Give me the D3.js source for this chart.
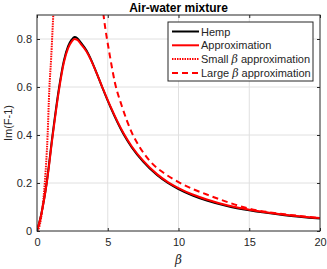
<!DOCTYPE html>
<meta charset="utf-8">
<script src="https://d3js.org/d3.v7.min.js"></script>
<style>
  body { margin: 0; background: #fff; }
  text { font-family: "Liberation Sans", Arial, sans-serif; fill: #262626; }
</style>
<div id="chart"></div>
<script>

// values
const hempBeta = [0, 0.3, 0.68, 1.1, 1.54, 1.9, 2.2, 2.45, 2.64, 2.85, 3.1, 3.5, 3.85, 4.2, 4.6, 5.2, 6.1, 6.7, 7.5, 8.5, 9.25, 10, 11, 12, 13.5, 15, 17.5, 20];
const hempVal  = [0, 0.07, 0.2, 0.4, 0.59, 0.71, 0.77, 0.797, 0.808, 0.803, 0.785, 0.752, 0.71, 0.66, 0.6, 0.515, 0.405, 0.348, 0.289, 0.232, 0.2, 0.175, 0.148, 0.127, 0.103, 0.086, 0.066, 0.052];
const approxVal = [0, 0.068, 0.196, 0.393, 0.582, 0.702, 0.762, 0.789, 0.80, 0.796, 0.779, 0.748, 0.708, 0.66, 0.602, 0.518, 0.409, 0.352, 0.293, 0.236, 0.204, 0.179, 0.152, 0.131, 0.106, 0.089, 0.068, 0.054];
const smallBeta = [0, 0.2, 0.35, 0.55, 0.75, 0.87, 1.0, 1.1, 1.15, 1.22];
const smallVal  = [0, 0.026, 0.08, 0.2, 0.4, 0.59, 0.72, 0.84, 0.9, 0.98];
const largeBeta = [4.6, 4.7, 5.15, 5.5, 6, 6.7, 7.2, 8, 9, 10, 11, 12, 13, 15, 17.5, 20];
const largeVal  = [0.95, 0.9, 0.73, 0.62, 0.52, 0.41, 0.355, 0.29, 0.24, 0.204, 0.175, 0.152, 0.13, 0.093, 0.07, 0.054];
const xTicks = [0, 5, 10, 15, 20];
const yTicks = [0, 0.2, 0.4, 0.6, 0.8];
const legendNames = ["Hemp", "Approximation", "Small β approximation", "Large β approximation"];

const W = 327, H = 269;
const margin = {top: 15, right: 7, bottom: 38, left: 37};
const width = W - margin.left - margin.right,
      height = H - margin.top - margin.bottom;

const svg = d3.select("#chart").append("svg")
    .attr("width", W).attr("height", H);
const g = svg.append("g")
    .attr("transform", `translate(${margin.left},${margin.top})`);

const x = d3.scaleLinear().domain([0, 20]).range([0, width]);
const y = d3.scaleLinear().domain([0, 0.9]).range([height, 0]);

// grid
g.append("g").selectAll("line").data(xTicks.slice(1, -1)).join("line")
  .attr("x1", d => x(d)).attr("x2", d => x(d))
  .attr("y1", 0).attr("y2", height)
  .attr("stroke", "#e0e0e0").attr("stroke-width", 1);
g.append("g").selectAll("line").data(yTicks.slice(1)).join("line")
  .attr("x1", 0).attr("x2", width)
  .attr("y1", d => y(d)).attr("y2", d => y(d))
  .attr("stroke", "#e0e0e0").attr("stroke-width", 1);

// clip
svg.append("defs").append("clipPath").attr("id", "clip")
  .append("rect").attr("width", width).attr("height", height);

const lineX = d3.line().x(d => x(d[0])).y(d => y(d[1])).curve(d3.curveMonotoneX);
const plot = g.append("g").attr("clip-path", "url(#clip)");

const series = [
  {pts: d3.zip(hempBeta, hempVal), color: "#000000", dash: null, w: 2},
  {pts: d3.zip(hempBeta, approxVal), color: "#ff0000", dash: null, w: 2},
  {pts: d3.zip(smallBeta, smallVal), color: "#ff0000", dash: "1.5,1", w: 2},
  {pts: d3.zip(largeBeta, largeVal), color: "#ff0000", dash: "6,4", w: 2}
];

series.forEach(s => {
  plot.append("path")
    .datum(s.pts)
    .attr("d", lineX)
    .attr("fill", "none")
    .attr("stroke", s.color)
    .attr("stroke-width", s.w)
    .attr("stroke-dasharray", s.dash);
});

// axes (ticks inside, on all sides)
const axisStyle = sel => {
  sel.select(".domain").remove();
  sel.selectAll("line").attr("stroke", "#262626");
  sel.selectAll("text").style("font-size", "11px").attr("fill", "#262626");
};
g.append("g").attr("transform", `translate(0,${height})`)
  .call(d3.axisBottom(x).tickValues(xTicks).tickSizeInner(-3).tickSizeOuter(0).tickPadding(7))
  .call(axisStyle);
g.append("g")
  .call(d3.axisTop(x).tickValues(xTicks).tickSizeInner(-3).tickSizeOuter(0).tickFormat(""))
  .call(axisStyle);
g.append("g")
  .call(d3.axisLeft(y).tickValues(yTicks).tickSizeInner(-3).tickSizeOuter(0).tickPadding(5).tickFormat(d => d === 0 ? "0" : d3.format(".1f")(d)))
  .call(axisStyle);
g.append("g").attr("transform", `translate(${width},0)`)
  .call(d3.axisRight(y).tickValues(yTicks).tickSizeInner(-3).tickSizeOuter(0).tickFormat(""))
  .call(axisStyle);

g.append("rect")
  .attr("width", width).attr("height", height)
  .attr("fill", "none").attr("stroke", "#262626").attr("stroke-width", 1);

// title & labels
svg.append("text")
  .attr("x", margin.left + width / 2).attr("y", 12)
  .attr("text-anchor", "middle")
  .style("font-size", "12px").style("font-weight", "bold")
  .style("fill", "#000")
  .text("Air-water mixture");

svg.append("text")
  .attr("x", margin.left + width / 2).attr("y", 264)
  .attr("text-anchor", "middle")
  .style("font-size", "12px").style("font-style", "italic")
  .style("font-family", "'DejaVu Serif', serif")
  .text("β");

svg.append("text")
  .attr("transform", `translate(12,${margin.top + height / 2}) rotate(-90)`)
  .attr("text-anchor", "middle")
  .style("font-size", "11px")
  .text("Im(F-1)");

// legend
const lg = svg.append("g").attr("transform", "translate(168,22)");
lg.append("rect")
  .attr("width", 145).attr("height", 59)
  .attr("fill", "#fff").attr("stroke", "#262626").attr("stroke-width", 1);
legendNames.forEach((name, i) => {
  const s = series[i];
  const yy = 9.5 + i * 13.8;
  lg.append("line")
    .attr("x1", 4).attr("x2", 31).attr("y1", yy).attr("y2", yy)
    .attr("stroke", s.color).attr("stroke-width", s.w)
    .attr("stroke-dasharray", s.dash);
  const t = lg.append("text").attr("x", 33).attr("y", yy + 4).style("font-size", "11px");
  if (name.includes("β")) {
    const parts = name.split("β");
    t.append("tspan").text(parts[0]);
    t.append("tspan").style("font-style", "italic").style("font-family", "'DejaVu Serif', serif").text("β");
    t.append("tspan").text(parts[1]);
  } else {
    t.text(name);
  }
});
</script>
